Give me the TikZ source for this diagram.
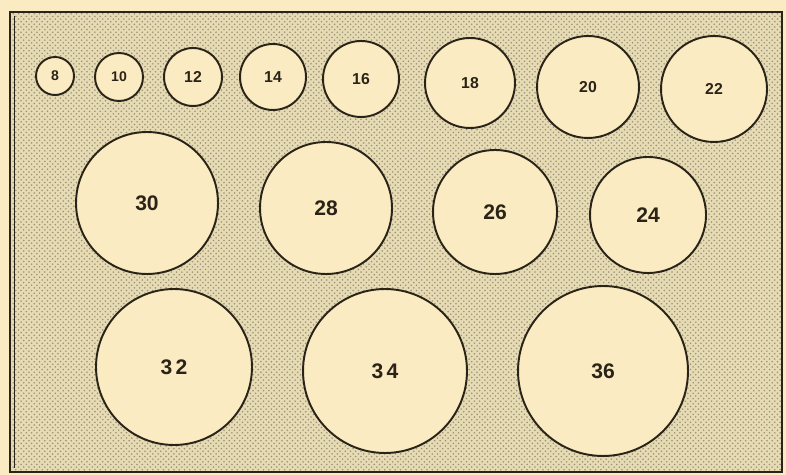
\documentclass[tikz,border=0pt]{standalone}
\usepackage{fontspec}
\setmainfont{Liberation Sans}
\usetikzlibrary{patterns}
\definecolor{paper}{HTML}{FBEBC2}
\definecolor{board}{HTML}{E6DBB3}
\definecolor{speck}{HTML}{9A927A}
\definecolor{ink}{HTML}{2A2418}

\begin{document}
\begin{tikzpicture}[x=0.02cm,y=-0.02cm,
  hole/.style={circle,draw=ink,line width=1.1pt,fill=paper,inner sep=0pt,text=ink,font=\bfseries\large},
  smallhole/.style={hole,font=\bfseries\small}]
% board
\fill[paper] (0,0) rectangle (786,475);
\fill[board] (10,12) rectangle (782,472);
\fill[pattern=crosshatch dots,pattern color=speck] (10,12) rectangle (782,472);
\draw[ink,line width=1.6pt] (10,12) rectangle (782,472);
\draw[ink,line width=0.5pt] (14,16) -- (14,468);
% top row
\node[smallhole,minimum size=0.76cm,font=\bfseries\footnotesize] (h8) at (55,76) {8};
\node[smallhole,minimum size=0.96cm,font=\bfseries\footnotesize] (h10) at (119,77) {10};
\node[smallhole,minimum size=1.16cm] (h12) at (193,77) {12};
\node[smallhole,minimum size=1.32cm] (h14) at (273,77) {14};
\node[smallhole,minimum size=1.52cm] (h16) at (361,79) {16};
\node[smallhole,minimum size=1.80cm] (h18) at (470,83) {18};
\node[smallhole,minimum size=2.04cm] (h20) at (588,87) {20};
\node[smallhole,minimum size=2.12cm] (h22) at (714,89) {22};
% middle row
\node[hole,minimum size=2.84cm] (h30) at (147,203) {30};
\node[hole,minimum size=2.64cm] (h28) at (326,208) {28};
\node[hole,minimum size=2.48cm] (h26) at (495,212) {26};
\node[hole,minimum size=2.32cm] (h24) at (648,215) {24};
% bottom row
\node[hole,minimum size=3.12cm] (h32) at (174,367) {3\,2};
\node[hole,minimum size=3.28cm] (h34) at (385,371) {3\,4};
\node[hole,minimum size=3.40cm] (h36) at (603,371) {36};
\end{tikzpicture}
\end{document}
